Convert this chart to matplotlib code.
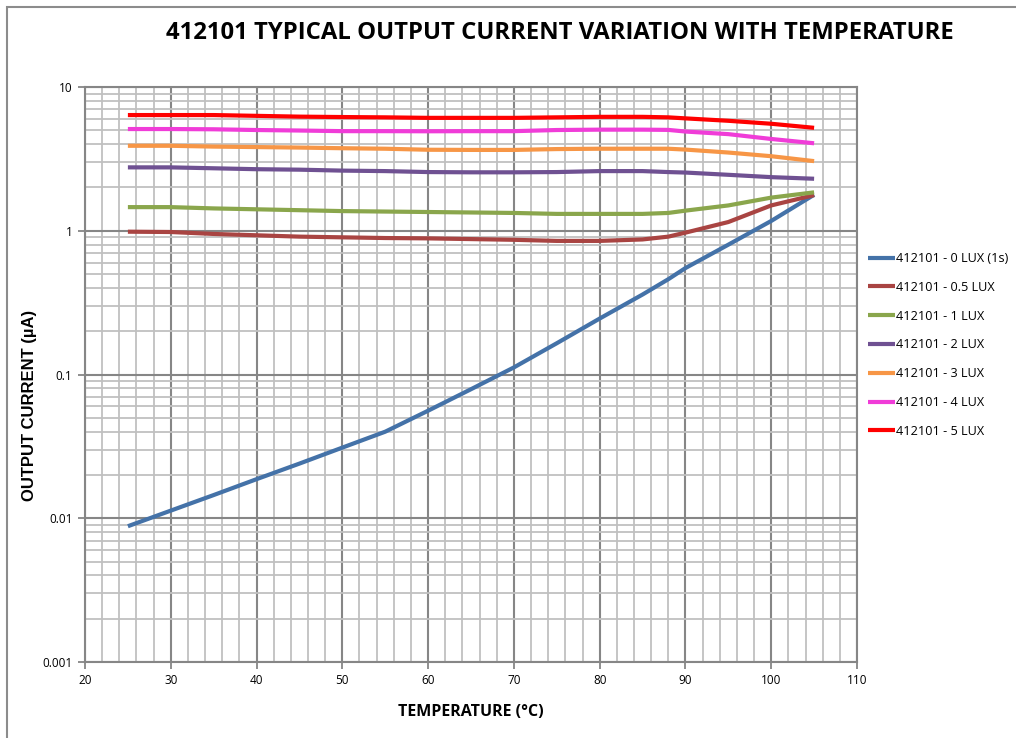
import matplotlib
matplotlib.use("Agg")
import matplotlib.pyplot as plt
from matplotlib.ticker import FixedLocator, FixedFormatter, NullFormatter, LogLocator
from matplotlib.patches import Rectangle

temps = [25, 30, 35, 40, 45, 50, 55, 60, 65, 70, 75, 80, 85, 88, 90, 95, 100, 105]

lux_0 = [0.0088, 0.0113, 0.0145, 0.0187, 0.024, 0.031, 0.040, 0.056, 0.079, 0.112, 0.165, 0.245, 0.36, 0.46, 0.55, 0.80, 1.17, 1.78]
lux_05 = [0.985, 0.98, 0.95, 0.93, 0.91, 0.90, 0.89, 0.885, 0.875, 0.865, 0.85, 0.85, 0.87, 0.91, 0.97, 1.15, 1.50, 1.77]
lux_1 = [1.46, 1.46, 1.43, 1.41, 1.39, 1.37, 1.36, 1.35, 1.34, 1.33, 1.31, 1.31, 1.31, 1.33, 1.38, 1.50, 1.70, 1.85]
lux_2 = [2.76, 2.76, 2.72, 2.68, 2.66, 2.62, 2.60, 2.56, 2.55, 2.55, 2.56, 2.60, 2.60, 2.56, 2.54, 2.45, 2.36, 2.30]
lux_3 = [3.90, 3.90, 3.85, 3.82, 3.79, 3.75, 3.72, 3.66, 3.65, 3.65, 3.70, 3.72, 3.72, 3.72, 3.67, 3.50, 3.30, 3.05]
lux_4 = [5.10, 5.10, 5.08, 5.02, 4.98, 4.93, 4.93, 4.92, 4.93, 4.93, 5.02, 5.05, 5.05, 5.03, 4.90, 4.70, 4.35, 4.06]
lux_5 = [6.38, 6.38, 6.38, 6.30, 6.22, 6.18, 6.15, 6.10, 6.10, 6.10, 6.15, 6.20, 6.20, 6.15, 6.05, 5.82, 5.55, 5.20]

series_labels = ["412101 - 0 LUX (1s)", "412101 - 0.5 LUX", "412101 - 1 LUX",
                 "412101 - 2 LUX", "412101 - 3 LUX", "412101 - 4 LUX", "412101 - 5 LUX"]
series_colors = ["#4472A8", "#A94442", "#8AA64C", "#6F5192", "#F79646", "#F03CD8", "#FF0000"]

x_ticks = [20, 30, 40, 50, 60, 70, 80, 90, 100, 110]
y_ticks = [0.001, 0.01, 0.1, 1, 10]
y_tick_labels = ["0.001", "0.01", "0.1", "1", "10"]

fig = plt.figure(figsize=(10.16, 7.38), dpi=100)
fig.patches.append(Rectangle((7/1016, -0.01), 1.1, 1 - 7/738 + 0.01, transform=fig.transFigure,
                             fill=False, edgecolor="#8c8c8c", linewidth=1.5, zorder=-5))
ax = fig.add_axes([85/1016, 1 - 662/738, (857 - 85)/1016, (662 - 87)/738])

for vals, lab, col in zip([lux_0, lux_05, lux_1, lux_2, lux_3, lux_4, lux_5], series_labels, series_colors):
    ax.plot(temps, vals, color=col, linewidth=3, label=lab, solid_capstyle="butt", zorder=3)

ax.set_yscale("log")
ax.set_xlim(20, 110)
ax.set_ylim(0.001, 10)

ax.xaxis.set_major_locator(FixedLocator(x_ticks))
ax.xaxis.set_minor_locator(FixedLocator(list(range(20, 111, 2))))
ax.yaxis.set_major_locator(FixedLocator(y_ticks))
ax.yaxis.set_major_formatter(FixedFormatter(y_tick_labels))
ax.yaxis.set_minor_locator(LogLocator(base=10, subs=range(2, 10)))
ax.yaxis.set_minor_formatter(NullFormatter())

ax.grid(True, which="minor", color="#c0c0c0", linewidth=1.3, zorder=0)
ax.grid(True, which="major", color="#868686", linewidth=1.5, zorder=1)
ax.set_axisbelow(True)
for s in ax.spines.values():
    s.set_color("#868686")
    s.set_linewidth(1.5)

ax.tick_params(which="major", length=5, width=1.3, color="#868686", labelsize=8.5, pad=4)
ax.tick_params(which="minor", length=0)
for lbl in ax.get_xticklabels() + ax.get_yticklabels():
    lbl.set_fontfamily("Open Sans")

ax.set_xlabel("TEMPERATURE (°C)", fontsize=11.5, fontweight="bold", family="Open Sans", labelpad=12)
ax.set_ylabel("OUTPUT CURRENT (µA)", fontsize=12, fontweight="bold", family="Liberation Sans", labelpad=-3)
ax.yaxis.set_label_coords(37/1016, 1 - 405/738, transform=fig.transFigure)

fig.text(560/1016, 1 - 33/738, "412101 TYPICAL OUTPUT CURRENT VARIATION WITH TEMPERATURE",
         ha="center", va="center", fontsize=17.2, fontweight="bold", family="Open Sans")

leg = ax.legend(loc="upper left", bbox_to_anchor=(863/1016, 1 - 247/738), bbox_transform=fig.transFigure,
                frameon=False, handlelength=2.1, handletextpad=0.15, labelspacing=1.25,
                borderaxespad=0, prop={"family": "Open Sans", "size": 9.1})

fig.savefig("out.png", dpi=100)
